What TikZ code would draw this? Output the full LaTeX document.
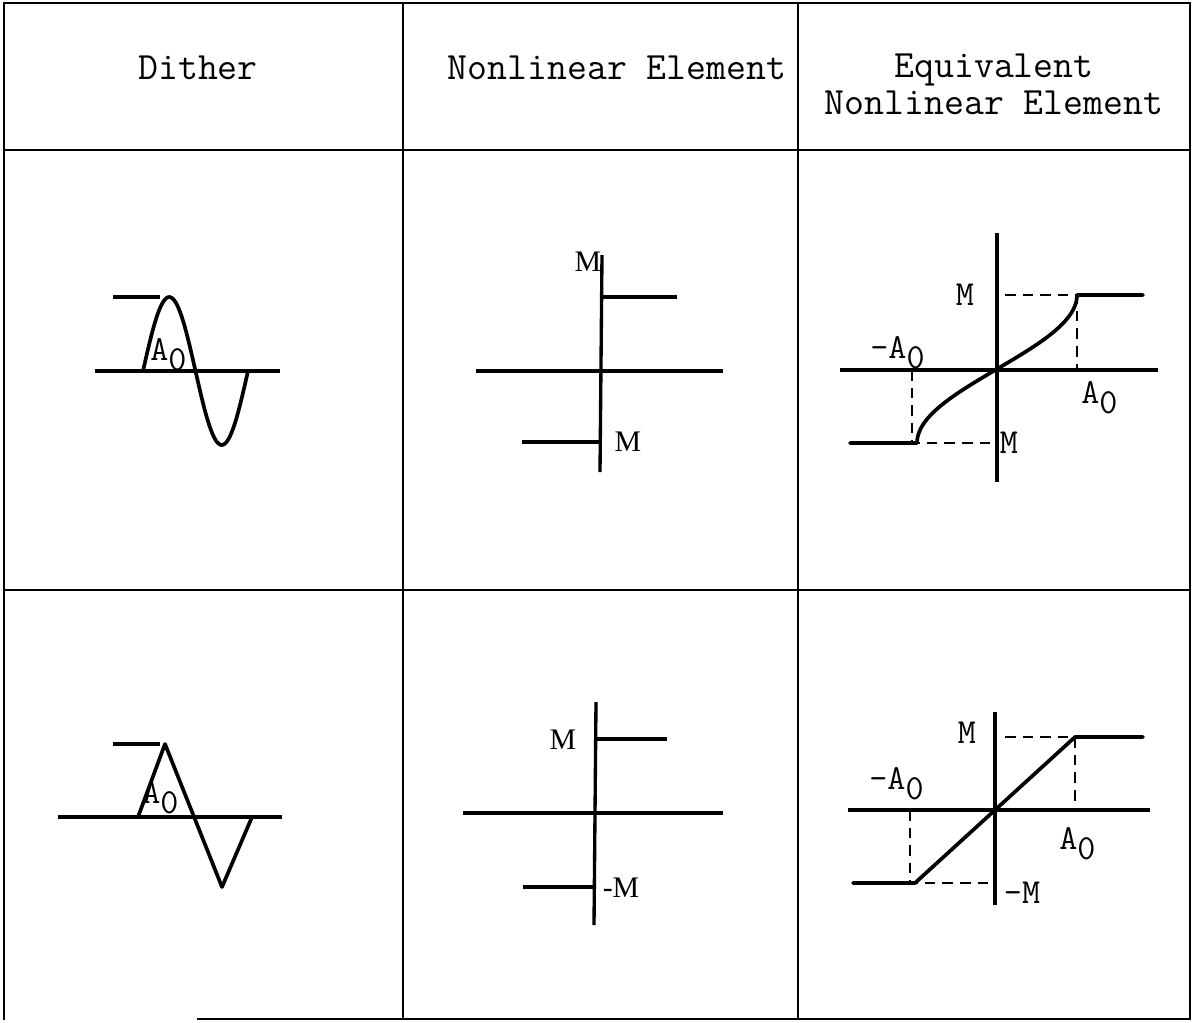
\documentclass[tikz,border=0pt]{standalone}
\usepackage{fontspec}
\setmainfont{Liberation Serif}
\newcommand\Azero{A\raisebox{-0.7ex}{0}}
\begin{document}
\begin{tikzpicture}[x=0.02cm, y=-0.02cm,
  rule/.style={line width=1.5pt},
  curve/.style={line width=2.1pt, line join=round, line cap=round},
  axis/.style={line width=1.9pt},
  guide/.style={line width=0.9pt, dash pattern=on 6pt off 4pt},
  head/.style={font=\ttfamily\fontsize{22}{21}\selectfont, align=center},
  lab/.style={font=\ttfamily\fontsize{20}{22}\selectfont, inner sep=0pt},
  mlab/.style={font=\rmfamily\fontsize{17}{19}\selectfont, inner sep=0pt}]
  \useasboundingbox (0,0) rectangle (1193,1022);
  % Table rules
  \draw[rule] (4,1020) -- (4,3) -- (1190,3) -- (1190,1019) -- (197,1019);
  \foreach \x in {403, 798} {
    \draw[rule] (\x,3) -- (\x,1020);
  }
  \foreach \y in {150, 590} {
    \draw[rule] (4,\y) -- (1190,\y);
  }
  % Column heads
  \node[head] (hdither) at (198,68) {Dither};
  \node[head] (hnonlin) at (617,68) {Nonlinear Element};
  \node[head] (hequiv) at (994,84) {Equivalent\\Nonlinear Element};

  % Sine dither
  \draw[axis] (95,371) -- (280,371);
  \draw[axis] (113,297) -- (160,297);
  \draw[curve] plot[domain=0:360, samples=72] ({143+105*(\x/360)}, {371-74*sin(\x)});
  \node[lab, anchor=base west] (asine) at (150,360) {\Azero};
  % Triangle dither
  \draw[axis] (58,817) -- (282,817);
  \draw[axis] (113,744) -- (160,744);
  \draw[curve] (138,817) -- (165,744) -- (222,887) -- (252,817);
  \node[lab, anchor=base west] (atri) at (142,803) {\Azero};

  % Relay, upper row
  \draw[axis] (476,371) -- (723,371);
  \draw[axis] (602,255) -- (600,472);
  \draw[axis] (602,297) -- (677,297);
  \draw[axis] (522,442) -- (600,442);
  \node[mlab] (mtop) at (588,262) {M};
  \node[mlab] (mbot) at (628,442) {M};
  % Relay, lower row
  \draw[axis] (463,813) -- (723,813);
  \draw[axis] (596,702) -- (594,925);
  \draw[axis] (596,739) -- (667,739);
  \draw[axis] (523,887) -- (595,887);
  \node[mlab] (mtop2) at (563,740) {M};
  \node[mlab] (mbot2) at (621,888) {-M};

  % Equivalent element, sine dither
  \draw[axis] (840,370) -- (1158,370);
  \draw[axis] (997,233) -- (997,482);
  \draw[guide] (1005,295) -- (1077,295) -- (1077,370);
  \draw[guide] (912,370) -- (912,443) -- (995,443);
  \draw[curve] (850,443) -- (917,443)
    plot[domain=-90:90, samples=61] ({997+80*sin(\x)}, {369-74*(\x/90)})
    -- (1143,295);
  \node[lab] (ms) at (965,295) {M};
  \node[lab, anchor=base west] (nas) at (870,358) {-\Azero};
  \node[lab, anchor=base west] (pas) at (1081,403) {\Azero};
  \node[lab] (mbs) at (1009,443) {M};
  % Equivalent element, triangle dither
  \draw[axis] (848,810) -- (1150,810);
  \draw[axis] (995,712) -- (995,905);
  \draw[guide] (1005,737) -- (1075,737) -- (1075,810);
  \draw[guide] (910,810) -- (910,883) -- (990,883);
  \draw[curve] (853,883) -- (915,883) -- (1075,737) -- (1143,737);
  \node[lab] (mt) at (967,733) {M};
  \node[lab, anchor=base west] (nat) at (869,789) {-\Azero};
  \node[lab, anchor=base west] (pat) at (1059,849) {\Azero};
  \node[lab] (mbt) at (1022,893) {-M};
\end{tikzpicture}
\end{document}
